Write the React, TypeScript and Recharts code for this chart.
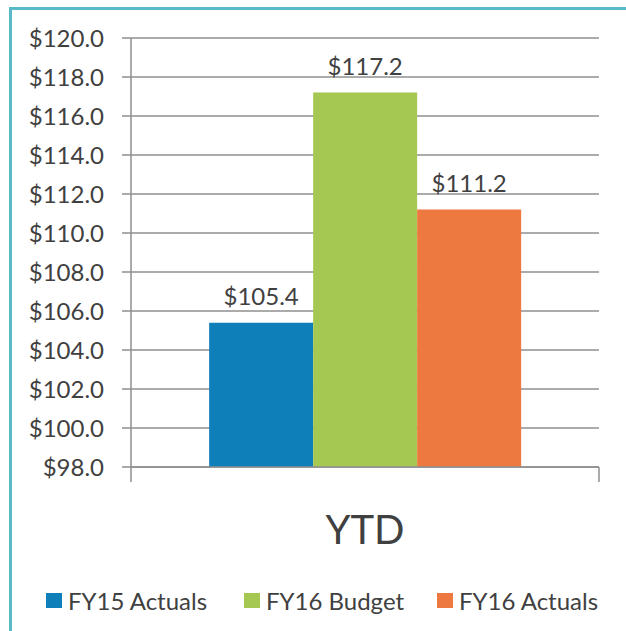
import React from 'react';
import { BarChart, Bar, XAxis, YAxis, CartesianGrid, Legend, LabelList } from 'recharts';

const categories = ['YTD'];
const fy15Actuals = [105.4];
const fy16Budget = [117.2];
const fy16Actuals = [111.2];
const yTicks = [98, 100, 102, 104, 106, 108, 110, 112, 114, 116, 118, 120];

const seriesNames = ['FY15 Actuals', 'FY16 Budget', 'FY16 Actuals'];
const seriesColors = ['#0F7FBA', '#A4C851', '#EE7940'];

const data = categories.map((name, i) => ({
  name,
  fy15: fy15Actuals[i],
  budget: fy16Budget[i],
  fy16: fy16Actuals[i],
}));

const FONT = 'Lato, "Open Sans", sans-serif';
const TEXT = '#404040';
const GRID = '#8f8f8f';

const money = (v: number) => `$${v.toFixed(1)}`;

const CategoryTick = (props: any) => {
  const { x, y, payload } = props;
  const half = payload && payload.offset ? payload.offset : 0;
  return (
    <g>
      <line x1={x - half} x2={x - half} y1={y} y2={y + 15} stroke={GRID} strokeWidth={1.5} />
      <line x1={x + half} x2={x + half} y1={y} y2={y + 15} stroke={GRID} strokeWidth={1.5} />
      <text x={x} y={y + 77} textAnchor="middle" fill={TEXT} fontSize={40} fontFamily={FONT}>
        {payload.value}
      </text>
    </g>
  );
};

const LegendContent = () => (
  <div style={{ display: 'flex', fontFamily: FONT, fontSize: 24, color: TEXT }}>
    {seriesNames.map((n, i) => (
      <div key={n} style={{ display: 'flex', alignItems: 'center', width: i === 0 ? 198 : 193 }}>
        <span style={{ width: 16, height: 15, background: seriesColors[i], marginRight: 6, display: 'inline-block' }} />
        <span style={{ whiteSpace: 'nowrap' }}>{n}</span>
      </div>
    ))}
  </div>
);

export default function App() {
  return (
    <div style={{ position: 'absolute', left: 0, top: 0, width: 626, height: 631, background: '#fff', overflow: 'hidden' }}>
      <div
        style={{
          position: 'absolute',
          left: 9,
          top: 7,
          width: 626,
          height: 631,
          borderTop: '3px solid #58BAC9',
          borderLeft: '3px solid #58BAC9',
        }}
      />
      <BarChart
        width={626}
        height={631}
        data={data}
        margin={{ top: 38, right: 27, left: 0, bottom: 74 }}
        barCategoryGap="16.7%"
        barGap={0}
      >
        <CartesianGrid vertical={false} stroke={GRID} strokeWidth={1.5} />
        <XAxis
          dataKey="name"
          height={90}
          tickLine={false}
          tickSize={0}
          tickMargin={0}
          axisLine={{ stroke: GRID, strokeWidth: 1.5 }}
          tick={<CategoryTick />}
        />
        <YAxis
          width={131}
          domain={[98, 120]}
          ticks={yTicks}
          interval={0}
          tickFormatter={money}
          tickSize={9}
          tickMargin={18}
          tickLine={{ stroke: GRID, strokeWidth: 1.5 }}
          axisLine={{ stroke: GRID, strokeWidth: 1.5 }}
          tick={{ fill: TEXT, fontSize: 24, fontFamily: FONT }}
          allowDataOverflow
        />
        <Legend
          layout="horizontal"
          verticalAlign="middle"
          align="center"
          content={<LegendContent />}
          wrapperStyle={{ position: 'absolute', top: 586, left: 46, width: 600, height: 30 }}
        />
        <Bar dataKey="fy15" name={seriesNames[0]} fill={seriesColors[0]} isAnimationActive={false}>
          <LabelList dataKey="fy15" position="top" offset={18} formatter={money} fill={TEXT} fontSize={24} fontFamily={FONT} />
        </Bar>
        <Bar dataKey="budget" name={seriesNames[1]} fill={seriesColors[1]} isAnimationActive={false}>
          <LabelList dataKey="budget" position="top" offset={18} formatter={money} fill={TEXT} fontSize={24} fontFamily={FONT} />
        </Bar>
        <Bar dataKey="fy16" name={seriesNames[2]} fill={seriesColors[2]} isAnimationActive={false}>
          <LabelList dataKey="fy16" position="top" offset={18} formatter={money} fill={TEXT} fontSize={24} fontFamily={FONT} />
        </Bar>
      </BarChart>
    </div>
  );
}
